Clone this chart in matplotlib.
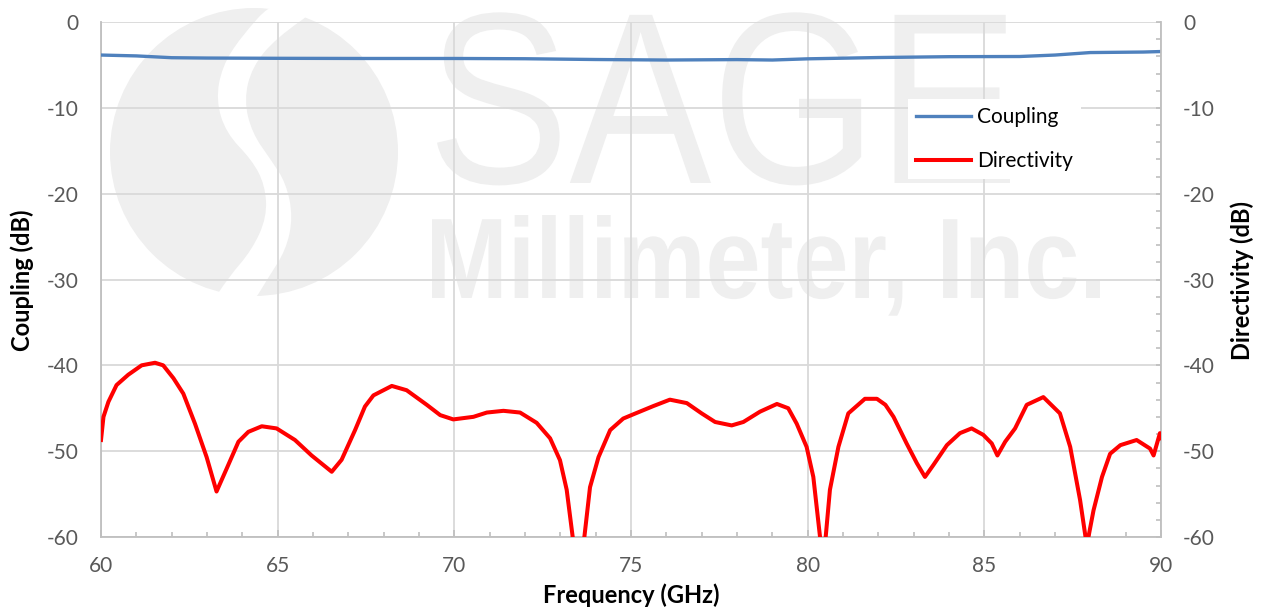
import matplotlib
matplotlib.use("Agg")
import matplotlib.pyplot as plt
from matplotlib.patches import Ellipse, PathPatch
from matplotlib.path import Path
from matplotlib.textpath import TextPath
from matplotlib.font_manager import FontProperties
from matplotlib.transforms import Affine2D
from matplotlib.ticker import MultipleLocator

plt.rcParams["axes.unicode_minus"] = False

# ---------------- data ----------------
coup_freq = [60, 61, 62, 63, 65, 67.5, 70, 72, 74, 76, 78, 79, 80, 82, 84, 86, 87, 88, 89, 89.5, 90]
coup_db = [-3.85, -3.95, -4.16, -4.2, -4.23, -4.25, -4.25, -4.28, -4.37, -4.43, -4.38, -4.43,
           -4.29, -4.14, -4.04, -4.02, -3.85, -3.56, -3.52, -3.5, -3.44]

dir_freq = [60.0, 60.07, 60.21, 60.44, 60.77, 61.15, 61.53, 61.76, 62.05, 62.33, 62.66, 62.99,
            63.27, 63.56, 63.89, 64.17, 64.55, 64.97, 65.49, 65.96, 66.53, 66.81, 67.19,
            67.47, 67.71, 68.23, 68.65, 69.22, 69.6, 69.97, 70.54, 70.92, 71.39, 71.86,
            72.33, 72.71, 72.99, 73.18, 73.35, 73.52, 73.68, 73.84, 74.08, 74.41, 74.78,
            75.07, 75.63, 76.1, 76.58, 77.0, 77.38, 77.85, 78.18, 78.65, 79.13, 79.45,
            79.69, 79.97, 80.16, 80.35, 80.43, 80.51, 80.63, 80.87, 81.15, 81.62, 81.96,
            82.2, 82.43, 82.8, 83.09, 83.32, 83.56, 83.94, 84.31, 84.64, 84.97, 85.21,
            85.37, 85.59, 85.87, 86.2, 86.67, 87.14, 87.43, 87.71, 87.9, 88.09, 88.33,
            88.56, 88.85, 89.31, 89.69, 89.79, 89.97, 90.0]
dir_db = [-48.7, -46.0, -44.25, -42.3, -41.1, -40.0, -39.7, -40.0, -41.5, -43.3, -46.8, -50.7,
          -54.7, -52.0, -48.9, -47.75, -47.1, -47.35, -48.7, -50.5, -52.4, -51.0, -47.55,
          -44.8, -43.5, -42.4, -42.9, -44.6, -45.8, -46.3, -46.0, -45.5, -45.3, -45.5,
          -46.7, -48.5, -51.05, -54.5, -60.0, -66.0, -60.0, -54.2, -50.7, -47.55, -46.2,
          -45.7, -44.75, -44.0, -44.4, -45.6, -46.6, -47.0, -46.6, -45.4, -44.5, -45.0,
          -46.8, -49.5, -53.0, -60.0, -66.0, -60.0, -54.5, -49.5, -45.6, -43.9, -43.9,
          -44.6, -46.0, -49.1, -51.4, -53.0, -51.6, -49.3, -47.9, -47.35, -48.1, -49.1,
          -50.5, -48.9, -47.35, -44.6, -43.7, -45.6, -49.5, -55.7, -61.0, -56.9, -53.0,
          -50.3, -49.3, -48.7, -49.7, -50.5, -47.9, -48.5]

x_ticks = [60, 65, 70, 75, 80, 85, 90]
y_ticks = [0, -10, -20, -30, -40, -50, -60]

# ---------------- figure ----------------
W, H = 1263, 608
fig = plt.figure(figsize=(W / 100, H / 100), dpi=100)
ax = fig.add_axes([101 / W, 1 - 537 / H, (1161 - 101) / W, (537 - 22) / H])
ax.set_axisbelow(True)

grid_c = "#d9d9d9"
spine_c = "#bfbfbf"
wm_c = "#efefef"
tick_c = "#595959"
FONT = "Lato"


def px(x, y):
    return (x / W, 1 - y / H)


def smooth_closed_path(pts):
    # quadratic curves through midpoints of the given outline points
    n = len(pts)
    mids = [((pts[i][0] + pts[(i + 1) % n][0]) / 2, (pts[i][1] + pts[(i + 1) % n][1]) / 2)
            for i in range(n)]
    verts = [px(*mids[-1])]
    codes = [Path.MOVETO]
    for i in range(n):
        verts += [px(*pts[i]), px(*mids[i])]
        codes += [Path.CURVE3, Path.CURVE3]
    verts.append(verts[0])
    codes.append(Path.CLOSEPOLY)
    return Path(verts, codes)


# watermark logo (circle split by a white S band)
ax.add_patch(Ellipse(px(254, 152), 288 / W, 288 / H, transform=fig.transFigure,
                     facecolor=wm_c, edgecolor="none", zorder=0.1, clip_on=False))
left_b = [(276, -2), (240, 38), (222, 67), (216, 100), (226, 133), (252, 160), (265, 185),
          (267, 217), (252, 250), (228, 278), (210, 306)]
right_b = [(250, 308), (268, 278), (286, 250), (293, 217), (286, 183), (271, 160), (252, 133),
           (244, 100), (252, 67), (276, 38), (325, 4)]
ax.add_patch(PathPatch(smooth_closed_path(left_b + right_b), transform=fig.transFigure,
                       facecolor="white", edgecolor="none", zorder=0.15, clip_on=False))


def text_box(s, x0, x1, ybase, cap_px, weight):
    tp = TextPath((0, 0), s, size=100, prop=FontProperties(family="Liberation Sans", weight=weight))
    ext = tp.get_extents()
    sx = (x1 - x0) / ext.width
    sy = cap_px / 71.6
    tr = (Affine2D().translate(-ext.x0, 0).scale(sx, sy).translate(x0, H - ybase)
          .scale(1 / W, 1 / H))
    ax.add_patch(PathPatch(tr.transform_path(tp), transform=fig.transFigure, facecolor=wm_c,
                           edgecolor="none", zorder=0.2, clip_on=False))


text_box("SAGE", 437, 1010, 183, 175, "normal")
text_box("Millimeter, Inc.", 432, 1100, 298, 82, "bold")

# ---------------- lines ----------------
ln1, = ax.plot(coup_freq, coup_db, color="#4f81bd", lw=2.4, label="Coupling", zorder=3)
ax2 = ax.twinx()
ln2, = ax2.plot(dir_freq, dir_db, color="#ff0000", lw=2.9, label="Directivity", zorder=3,
                solid_joinstyle="round")

for a in (ax, ax2):
    a.set_xlim(60, 90)
    a.set_ylim(-60, 0)

ax.set_xticks(x_ticks)
ax.xaxis.set_minor_locator(MultipleLocator(1))
ax.set_yticks(y_ticks)
ax2.set_yticks(y_ticks)
ax2.yaxis.set_minor_locator(MultipleLocator(2))

ax.grid(True, which="major", color=grid_c, lw=1.3)

for a in (ax, ax2):
    for s in a.spines.values():
        s.set_color(spine_c)
        s.set_linewidth(1.3)
    a.spines["top"].set_visible(False)
ax.spines["right"].set_visible(False)
ax2.spines["left"].set_visible(False)
ax2.spines["bottom"].set_visible(False)

ax.tick_params(axis="x", which="major", direction="in", length=5, color=spine_c, width=1.2,
               pad=14, labelsize=15, labelcolor=tick_c)
ax.tick_params(axis="x", which="minor", direction="in", length=3.6, color=spine_c, width=1.2)
ax.tick_params(axis="y", which="both", length=0, pad=16, labelsize=15, labelcolor=tick_c)
ax2.tick_params(axis="y", which="both", direction="in", length=3.6, color=spine_c, width=1.2,
                pad=16, labelsize=15, labelcolor=tick_c)
for lab in ax.get_xticklabels() + ax.get_yticklabels() + ax2.get_yticklabels():
    lab.set_family(FONT)

fig.text(22 / W, 1 - 280 / H, "Coupling (dB)", rotation=90, ha="center", va="center",
         fontsize=17, fontweight="bold", family=FONT)
fig.text(1242 / W, 1 - 280 / H, "Directivity (dB)", rotation=90, ha="center", va="center",
         fontsize=17, fontweight="bold", family=FONT)
fig.text(631 / W, 1 - 595 / H, "Frequency (GHz)", ha="center", va="center",
         fontsize=17, fontweight="bold", family=FONT)

leg = ax2.legend([ln1, ln2], ["Coupling", "Directivity"], loc="center left",
                 bbox_to_anchor=px(908, 139), bbox_transform=fig.transFigure, borderaxespad=0,
                 frameon=True, fancybox=False, edgecolor="none", facecolor="white", framealpha=1,
                 handlelength=2.6, handletextpad=0.3, labelspacing=1.15,
                 prop=FontProperties(family=FONT, size=15))
leg.set_zorder(5)

fig.savefig("out.png", dpi=100, facecolor="white")
